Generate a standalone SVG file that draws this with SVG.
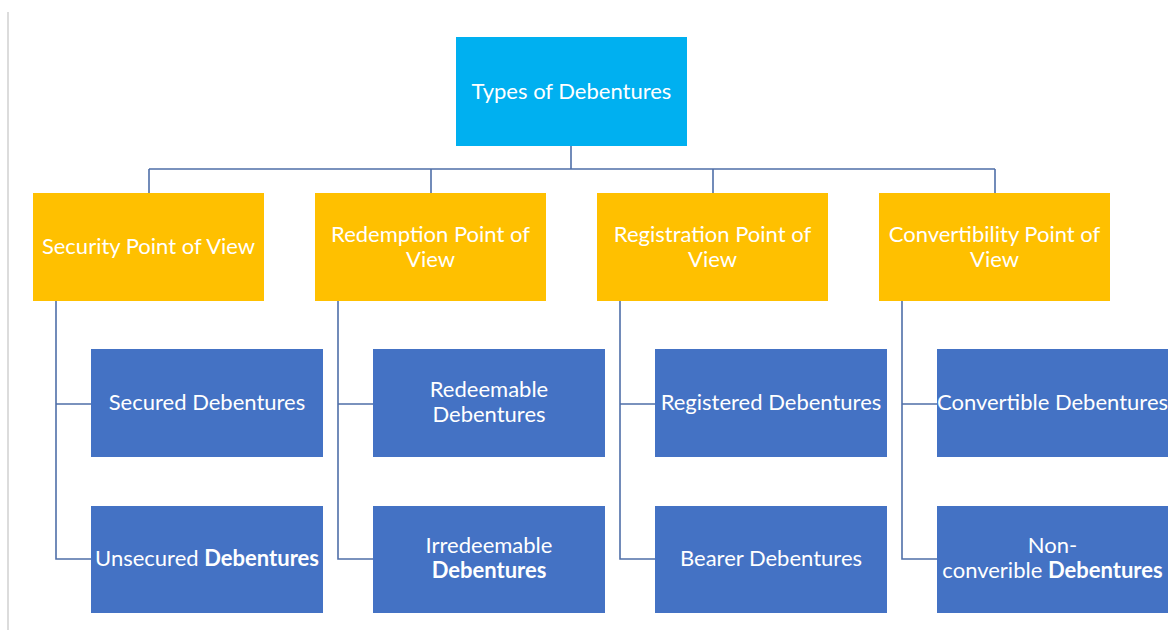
<svg xmlns="http://www.w3.org/2000/svg" width="1174" height="630" viewBox="0 0 1174 630">
<style>
.t{font-family:Lato,"Open Sans","Liberation Sans",sans-serif;font-size:22px;fill:#ffffff;text-anchor:middle}
.b{font-weight:bold}
.root{fill:#00B0F0}
.cat{fill:#FFC000}
.leaf{fill:#4472C4}
.c{fill:none;stroke:#4F6FA8;stroke-width:1.6}
</style>
<rect width="1174" height="630" fill="#ffffff"/>
<line x1="8" y1="12" x2="8" y2="630" stroke="#d0d0d0" stroke-width="1.5"/>
<g id="connectors">
<path class="c" d="M571 146V169M149 169H995M149 169V193M431 169V193M713 169V193M995 169V193"/>
<path class="c" d="M56 301V559H91M56 404H91"/>
<path class="c" d="M338 301V559H373M338 404H373"/>
<path class="c" d="M620 301V559H655M620 404H655"/>
<path class="c" d="M902 301V559H937M902 404H937"/>
</g>
<g id="root"><rect class="root" x="456" y="37" width="231" height="109"/><text class="t" x="571.5" y="99">Types of Debentures</text></g>
<g id="security"><rect class="cat" x="33" y="193" width="231" height="108"/><text class="t" x="148.5" y="254">Security Point of View</text></g>
<g id="redemption"><rect class="cat" x="315" y="193" width="231" height="108"/><text class="t" x="430.5" y="242">Redemption Point of</text><text class="t" x="430.5" y="267">View</text></g>
<g id="registration"><rect class="cat" x="597" y="193" width="231" height="108"/><text class="t" x="712.5" y="242">Registration Point of</text><text class="t" x="712.5" y="267">View</text></g>
<g id="convertibility"><rect class="cat" x="879" y="193" width="231" height="108"/><text class="t" x="994.5" y="242">Convertibility Point of</text><text class="t" x="994.5" y="267">View</text></g>
<g id="secured"><rect class="leaf" x="91" y="349" width="232" height="108"/><text class="t" x="207" y="410">Secured Debentures</text></g>
<g id="unsecured"><rect class="leaf" x="91" y="506" width="232" height="107"/><text class="t" x="207" y="566">Unsecured <tspan class="b">Debentures</tspan></text></g>
<g id="redeemable"><rect class="leaf" x="373" y="349" width="232" height="108"/><text class="t" x="489" y="397">Redeemable</text><text class="t" x="489" y="422">Debentures</text></g>
<g id="irredeemable"><rect class="leaf" x="373" y="506" width="232" height="107"/><text class="t" x="489" y="553">Irredeemable</text><text class="t b" x="489" y="578">Debentures</text></g>
<g id="registered"><rect class="leaf" x="655" y="349" width="232" height="108"/><text class="t" x="771" y="410">Registered Debentures</text></g>
<g id="bearer"><rect class="leaf" x="655" y="506" width="232" height="107"/><text class="t" x="771" y="566">Bearer Debentures</text></g>
<g id="convertible"><rect class="leaf" x="937" y="349" width="231" height="108"/><text class="t" x="1052.5" y="410">Convertible Debentures</text></g>
<g id="nonconvertible"><rect class="leaf" x="937" y="506" width="231" height="107"/><text class="t" x="1052.5" y="553">Non-</text><text class="t" x="1052.5" y="578">converible <tspan class="b">Debentures</tspan></text></g>
</svg>
